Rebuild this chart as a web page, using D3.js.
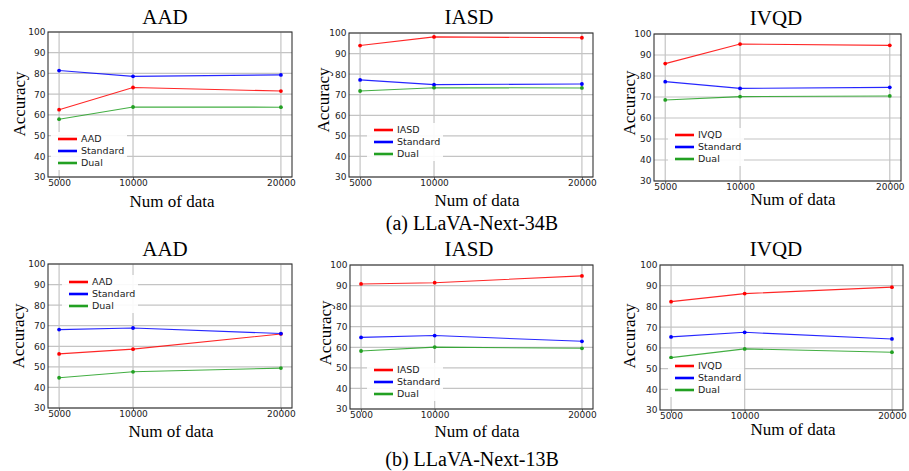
<!DOCTYPE html>
<html>
<head>
<meta charset="utf-8">
<script src="https://cdn.jsdelivr.net/npm/d3@7"></script>
<style>
  html, body { margin: 0; padding: 0; background: #fff; }
  svg { display: block; }
</style>
</head>
<body>
<svg id="chart" width="909" height="471"></svg>
<script>
// ---------------- DATA ----------------
const numData = [5000, 10000, 20000];
const xTickLabels = ["5000", "10000", "20000"];
const yTickValues = [30, 40, 50, 60, 70, 80, 90, 100];
const seriesNames = ["Task", "Standard", "Dual"];
const taskNames = ["AAD", "IASD", "IVQD"];
const captions = ["(a) LLaVA-Next-34B", "(b) LLaVA-Next-13B"];

// LLaVA-Next-34B
const aad34_task = [62.5, 73.2, 71.5];
const aad34_standard = [81.4, 78.6, 79.3];
const aad34_dual = [57.9, 63.8, 63.7];
const iasd34_task = [93.9, 98.1, 97.7];
const iasd34_standard = [77.2, 74.9, 75.2];
const iasd34_dual = [71.8, 73.4, 73.3];
const ivqd34_task = [85.9, 95.2, 94.6];
const ivqd34_standard = [77.3, 74.1, 74.6];
const ivqd34_dual = [68.6, 70.2, 70.5];

// LLaVA-Next-13B
const aad13_task = [56.3, 58.6, 66.0];
const aad13_standard = [68.1, 68.9, 66.2];
const aad13_dual = [44.7, 47.6, 49.4];
const iasd13_task = [90.8, 91.4, 94.7];
const iasd13_standard = [64.8, 65.7, 62.9];
const iasd13_dual = [58.2, 60.1, 59.5];
const ivqd13_task = [82.3, 86.2, 89.3];
const ivqd13_standard = [65.3, 67.5, 64.3];
const ivqd13_dual = [55.3, 59.5, 57.9];

// ---------------- LAYOUT ----------------
const colors = ["#ff0000", "#0000ff", "#22a022"];

const panels = [
  { title: taskNames[0], data: [aad34_task, aad34_standard, aad34_dual],
    l: 48, r: 292, t: 32, b: 177, titleX: 165, titleY: 24, xlX: 172, xlY: 207, ylX: 25, ylY: 104, legX: 58, legY: 139 },
  { title: taskNames[1], data: [iasd34_task, iasd34_standard, iasd34_dual],
    l: 349, r: 593, t: 33, b: 177, titleX: 469, titleY: 24, xlX: 477, xlY: 206, ylX: 329, ylY: 100, legX: 374, legY: 130 },
  { title: taskNames[2], data: [ivqd34_task, ivqd34_standard, ivqd34_dual],
    l: 654, r: 901, t: 34, b: 181, titleX: 776, titleY: 25, xlX: 793, xlY: 205, ylX: 635, ylY: 103, legX: 675, legY: 135 },
  { title: taskNames[0], data: [aad13_task, aad13_standard, aad13_dual],
    l: 48, r: 292, t: 264, b: 408, titleX: 165, titleY: 256, xlX: 171, xlY: 437, ylX: 24, ylY: 336, legX: 69, legY: 282 },
  { title: taskNames[1], data: [iasd13_task, iasd13_standard, iasd13_dual],
    l: 350, r: 593, t: 265, b: 409, titleX: 469, titleY: 256, xlX: 477, xlY: 437, ylX: 331, ylY: 333, legX: 374, legY: 370 },
  { title: taskNames[2], data: [ivqd13_task, ivqd13_standard, ivqd13_dual],
    l: 660, r: 903, t: 265, b: 410, titleX: 776, titleY: 256, xlX: 793, xlY: 435, ylX: 635, ylY: 336, legX: 675, legY: 366 }
];

const captionPos = [{ x: 472, y: 230 }, { x: 472, y: 466 }];

const svg = d3.select("#chart");
const serif = "'Liberation Serif', 'Times New Roman', serif";
const sans = "'DejaVu Sans', sans-serif";

panels.forEach(p => {
  const g = svg.append("g");
  const x = d3.scaleLinear().domain([4250, 20750]).range([p.l, p.r]);
  const y = d3.scaleLinear().domain([30, 100]).range([p.b, p.t]);

  // grid
  g.append("g").selectAll("line.hg").data(yTickValues).join("line")
    .attr("x1", p.l).attr("x2", p.r)
    .attr("y1", d => y(d)).attr("y2", d => y(d))
    .attr("stroke", "#c4c4c4").attr("stroke-width", 1.2);
  g.append("g").selectAll("line.vg").data(numData).join("line")
    .attr("x1", d => x(d)).attr("x2", d => x(d))
    .attr("y1", p.t).attr("y2", p.b)
    .attr("stroke", "#c4c4c4").attr("stroke-width", 1.2);

  // axes (ticks & labels via d3 axis)
  const xAxis = d3.axisBottom(x).tickValues(numData)
    .tickFormat((d, i) => xTickLabels[i]).tickSize(3).tickSizeOuter(0);
  const gx = g.append("g").attr("transform", `translate(0,${p.b})`).call(xAxis);
  gx.select(".domain").remove();
  gx.selectAll(".tick line").attr("stroke", "#666");
  gx.selectAll(".tick text").attr("font-family", sans).attr("font-size", 9)
    .attr("fill", "#222").attr("dy", 0).attr("y", 9);

  const yAxis = d3.axisLeft(y).tickValues(yTickValues).tickSize(0).tickPadding(2.5);
  const gy = g.append("g").attr("transform", `translate(${p.l},0)`).call(yAxis);
  gy.select(".domain").remove();
  gy.selectAll(".tick text").attr("font-family", sans).attr("font-size", 9)
    .attr("fill", "#222");

  // lines and markers
  const line = d3.line().x((d, i) => x(numData[i])).y(d => y(d));
  p.data.forEach((s, si) => {
    g.append("path").datum(s).attr("d", line)
      .attr("fill", "none").attr("stroke", colors[si])
      .attr("stroke-width", 1.1).attr("stroke-opacity", 0.85);
    g.append("g").selectAll("circle").data(s).join("circle")
      .attr("cx", (d, i) => x(numData[i])).attr("cy", d => y(d))
      .attr("r", 1.9).attr("fill", colors[si]);
  });

  // frame
  g.append("rect").attr("x", p.l).attr("y", p.t)
    .attr("width", p.r - p.l).attr("height", p.b - p.t)
    .attr("fill", "none").attr("stroke", "#333").attr("stroke-width", 1.1);

  // legend
  const labels = [p.title, "Standard", "Dual"];
  const rowH = 12;
  const lg = g.append("g");
  lg.append("rect")
    .attr("x", p.legX - 7).attr("y", p.legY - 7)
    .attr("width", 76).attr("height", rowH * 2 + 14)
    .attr("fill", "#fff").attr("fill-opacity", 0.9);
  labels.forEach((lab, i) => {
    const yy = p.legY + i * rowH;
    lg.append("line").attr("x1", p.legX).attr("x2", p.legX + 19)
      .attr("y1", yy).attr("y2", yy)
      .attr("stroke", colors[i]).attr("stroke-width", 2.6);
    lg.append("text").attr("x", p.legX + 23).attr("y", yy)
      .attr("dy", "0.35em")
      .attr("font-family", sans).attr("font-size", 9.5).attr("fill", "#222")
      .text(lab);
  });

  // title
  g.append("text").attr("x", p.titleX).attr("y", p.titleY)
    .attr("text-anchor", "middle").attr("font-family", serif)
    .attr("font-size", 21).attr("fill", "#000").text(p.title);
  // x label
  g.append("text").attr("x", p.xlX).attr("y", p.xlY)
    .attr("text-anchor", "middle").attr("font-family", serif)
    .attr("font-size", 17).attr("fill", "#000").text("Num of data");
  // y label
  g.append("text")
    .attr("transform", `translate(${p.ylX},${p.ylY}) rotate(-90)`)
    .attr("text-anchor", "middle").attr("font-family", serif)
    .attr("font-size", 17).attr("fill", "#000").text("Accuracy");
});

captions.forEach((c, i) => {
  svg.append("text").attr("x", captionPos[i].x).attr("y", captionPos[i].y)
    .attr("text-anchor", "middle").attr("font-family", serif)
    .attr("font-size", 20).attr("fill", "#000").text(c);
});
</script>
</body>
</html>
